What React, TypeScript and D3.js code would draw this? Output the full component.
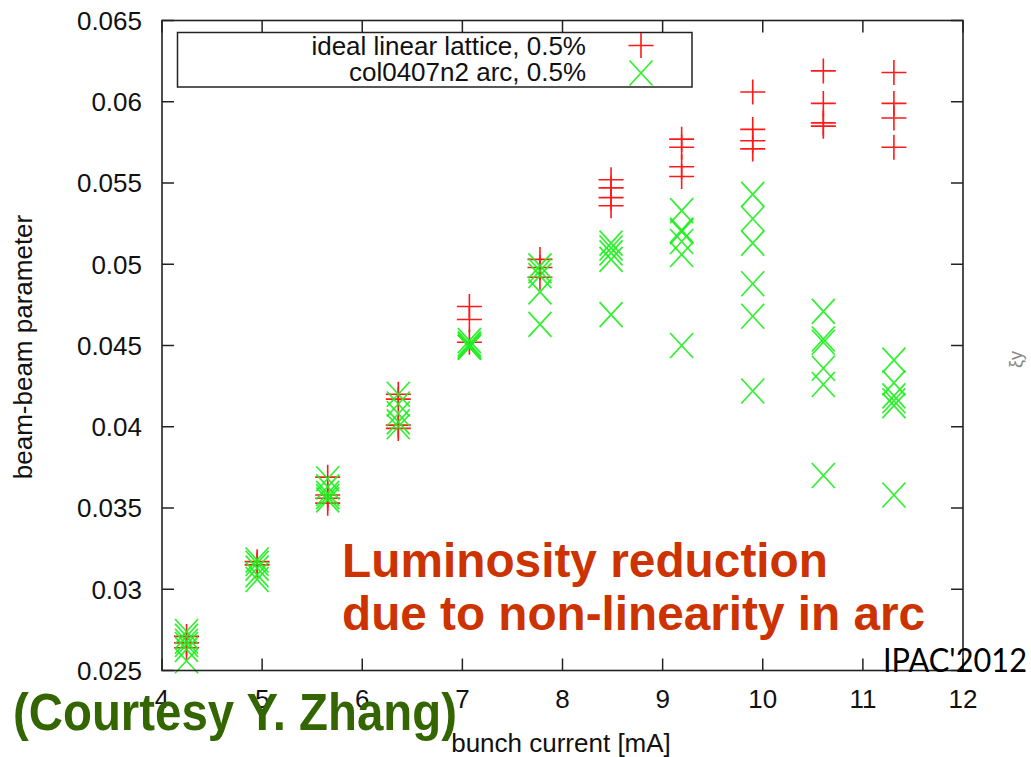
import React from "react";
import * as d3 from "d3";

// ---- data ----
const currents = [4.245, 4.95, 5.655, 6.36, 7.07, 7.775, 8.485, 9.19, 9.9, 10.605, 11.31];

const idealLinear: number[][] = [
  [0.0271, 0.0267, 0.0264],
  [0.0317, 0.0315],
  [0.0369, 0.0358, 0.0356, 0.0353],
  [0.042, 0.0417, 0.0401, 0.0399],
  [0.0474, 0.0466, 0.0452],
  [0.0503, 0.0498, 0.0492],
  [0.0552, 0.0547, 0.0541, 0.0536],
  [0.0577, 0.0572, 0.056, 0.0554],
  [0.0606, 0.0583, 0.0576, 0.0571],
  [0.0619, 0.0599, 0.0587, 0.0585],
  [0.0618, 0.0599, 0.059, 0.0572],
];

const col0407n2: number[][] = [
  [0.0274, 0.0271, 0.0268, 0.0266, 0.0263, 0.0256],
  [0.0318, 0.0316, 0.0313, 0.0309, 0.0306],
  [0.0368, 0.0363, 0.0359, 0.0357, 0.0355],
  [0.042, 0.0414, 0.0408, 0.0403, 0.04],
  [0.0453, 0.0451, 0.045, 0.0449, 0.0449],
  [0.0499, 0.0496, 0.0493, 0.0483, 0.0463],
  [0.0513, 0.051, 0.0507, 0.0503, 0.0469],
  [0.0533, 0.0521, 0.052, 0.0514, 0.0506, 0.045],
  [0.0543, 0.0528, 0.0513, 0.0488, 0.0468, 0.0422],
  [0.0471, 0.0454, 0.0452, 0.0436, 0.0426, 0.037],
  [0.0441, 0.0427, 0.0419, 0.0416, 0.0413, 0.0358],
];

const xTicks = [4, 5, 6, 7, 8, 9, 10, 11, 12];
const yTicks = [0.025, 0.03, 0.035, 0.04, 0.045, 0.05, 0.055, 0.06, 0.065];
const yTickLabels = ["0.025", "0.03", "0.035", "0.04", "0.045", "0.05", "0.055", "0.06", "0.065"];
const seriesNames = ["ideal linear lattice, 0.5%", "col0407n2 arc, 0.5%"];

const W = 1031;
const H = 757;
const FONT = "'Liberation Sans', Arial, Helvetica, sans-serif";
const RED = "#ff1a1a";
const GREEN = "#1fee1f";

export default function App() {
  const x = d3.scaleLinear().domain([4, 12]).range([162, 963]);
  const y = d3.scaleLinear().domain([0.025, 0.065]).range([670.5, 20.5]);
  const [x0, x1] = x.range();
  const [y0, y1] = [y(0.025), y(0.065)];
  const T = 12;
  const P = 12.5; // plus half size
  const C = 11.5; // cross half width

  const plus = (cx: number, cy: number, key: string) => (
    <path key={key} d={`M${cx - P},${cy}H${cx + P}M${cx},${cy - P}V${cy + P}`} stroke={RED} strokeWidth={1.6} fill="none" />
  );
  const cross = (cx: number, cy: number, key: string) => (
    <path key={key} d={`M${cx - C},${cy - C - 1}L${cx + C},${cy + C + 1}M${cx - C},${cy + C + 1}L${cx + C},${cy - C - 1}`} stroke={GREEN} strokeWidth={1.8} fill="none" strokeOpacity={0.9} />
  );

  return (
    <svg width={W} height={H} style={{ position: "absolute", left: 0, top: 0, background: "#fff" }} fontFamily={FONT}>
      <rect x={0} y={0} width={W} height={H} fill="#fff" />
      {/* ticks */}
      <g stroke="#222" strokeWidth={1.5}>
        {xTicks.map((t) => (
          <g key={"xt" + t}>
            <line x1={x(t)} x2={x(t)} y1={y0} y2={y0 - T} />
            <line x1={x(t)} x2={x(t)} y1={y1} y2={y1 + T} />
          </g>
        ))}
        {yTicks.map((t) => (
          <g key={"yt" + t}>
            <line x1={x0} x2={x0 + T} y1={y(t)} y2={y(t)} />
            <line x1={x1} x2={x1 - T} y1={y(t)} y2={y(t)} />
          </g>
        ))}
      </g>
      {/* tick labels */}
      <g fontSize={26} fill="#111">
        {xTicks.map((t) => (
          <text key={"xl" + t} x={x(t)} y={708} textAnchor="middle">{t}</text>
        ))}
        {yTicks.map((t, i) => (
          <text key={"yl" + t} x={142} y={y(t) + 9.3} textAnchor="end">{yTickLabels[i]}</text>
        ))}
      </g>
      {/* axis labels */}
      <text x={561} y={752} textAnchor="middle" fontSize={26} fill="#111">bunch current [mA]</text>
      <text transform="translate(32,347) rotate(-90)" textAnchor="middle" fontSize={26} fill="#111">beam-beam parameter</text>

      {/* data */}
      <g>
        {currents.map((c, i) => idealLinear[i].map((v, j) => plus(x(c), y(v), `p${i}-${j}`)))}
        {currents.map((c, i) => col0407n2[i].map((v, j) => cross(x(c), y(v), `c${i}-${j}`)))}
      </g>

      {/* legend */}
      <rect x={177.5} y={32.5} width={514.5} height={54.5} fill="none" stroke="#222" strokeWidth={1.5} />
      <text x={586} y={55} textAnchor="end" fontSize={26} fill="#111">{seriesNames[0]}</text>
      <text x={586} y={81} textAnchor="end" fontSize={26} fill="#111">{seriesNames[1]}</text>
      {plus(641, 45.5, "lp")}
      {cross(641, 73, "lc")}

      {/* frame */}
      <rect x={x0} y={y1} width={x1 - x0} height={y0 - y1} fill="none" stroke="#222" strokeWidth={1.6} />

      {/* annotations */}
      <text x={342} y={577} fontSize={47.5} fontWeight="bold" fill="#cc3300" textLength={486} lengthAdjust="spacingAndGlyphs">Luminosity reduction</text>
      <text x={342} y={630} fontSize={47.5} fontWeight="bold" fill="#cc3300" textLength={583} lengthAdjust="spacingAndGlyphs">due to non-linearity in arc</text>
      <text x={883} y={672} fontSize={32} fill="#000" fontFamily="Lato, 'Open Sans', sans-serif" textLength={144} lengthAdjust="spacingAndGlyphs">IPAC'2012</text>
      <text x={13} y={730} fontSize={51} fontWeight="bold" fill="#336600" textLength={444} lengthAdjust="spacingAndGlyphs">(Courtesy Y. Zhang)</text>
      <text transform="translate(1022,368) rotate(-90)" fontSize={18} fill="#888">ξy</text>
    </svg>
  );
}
